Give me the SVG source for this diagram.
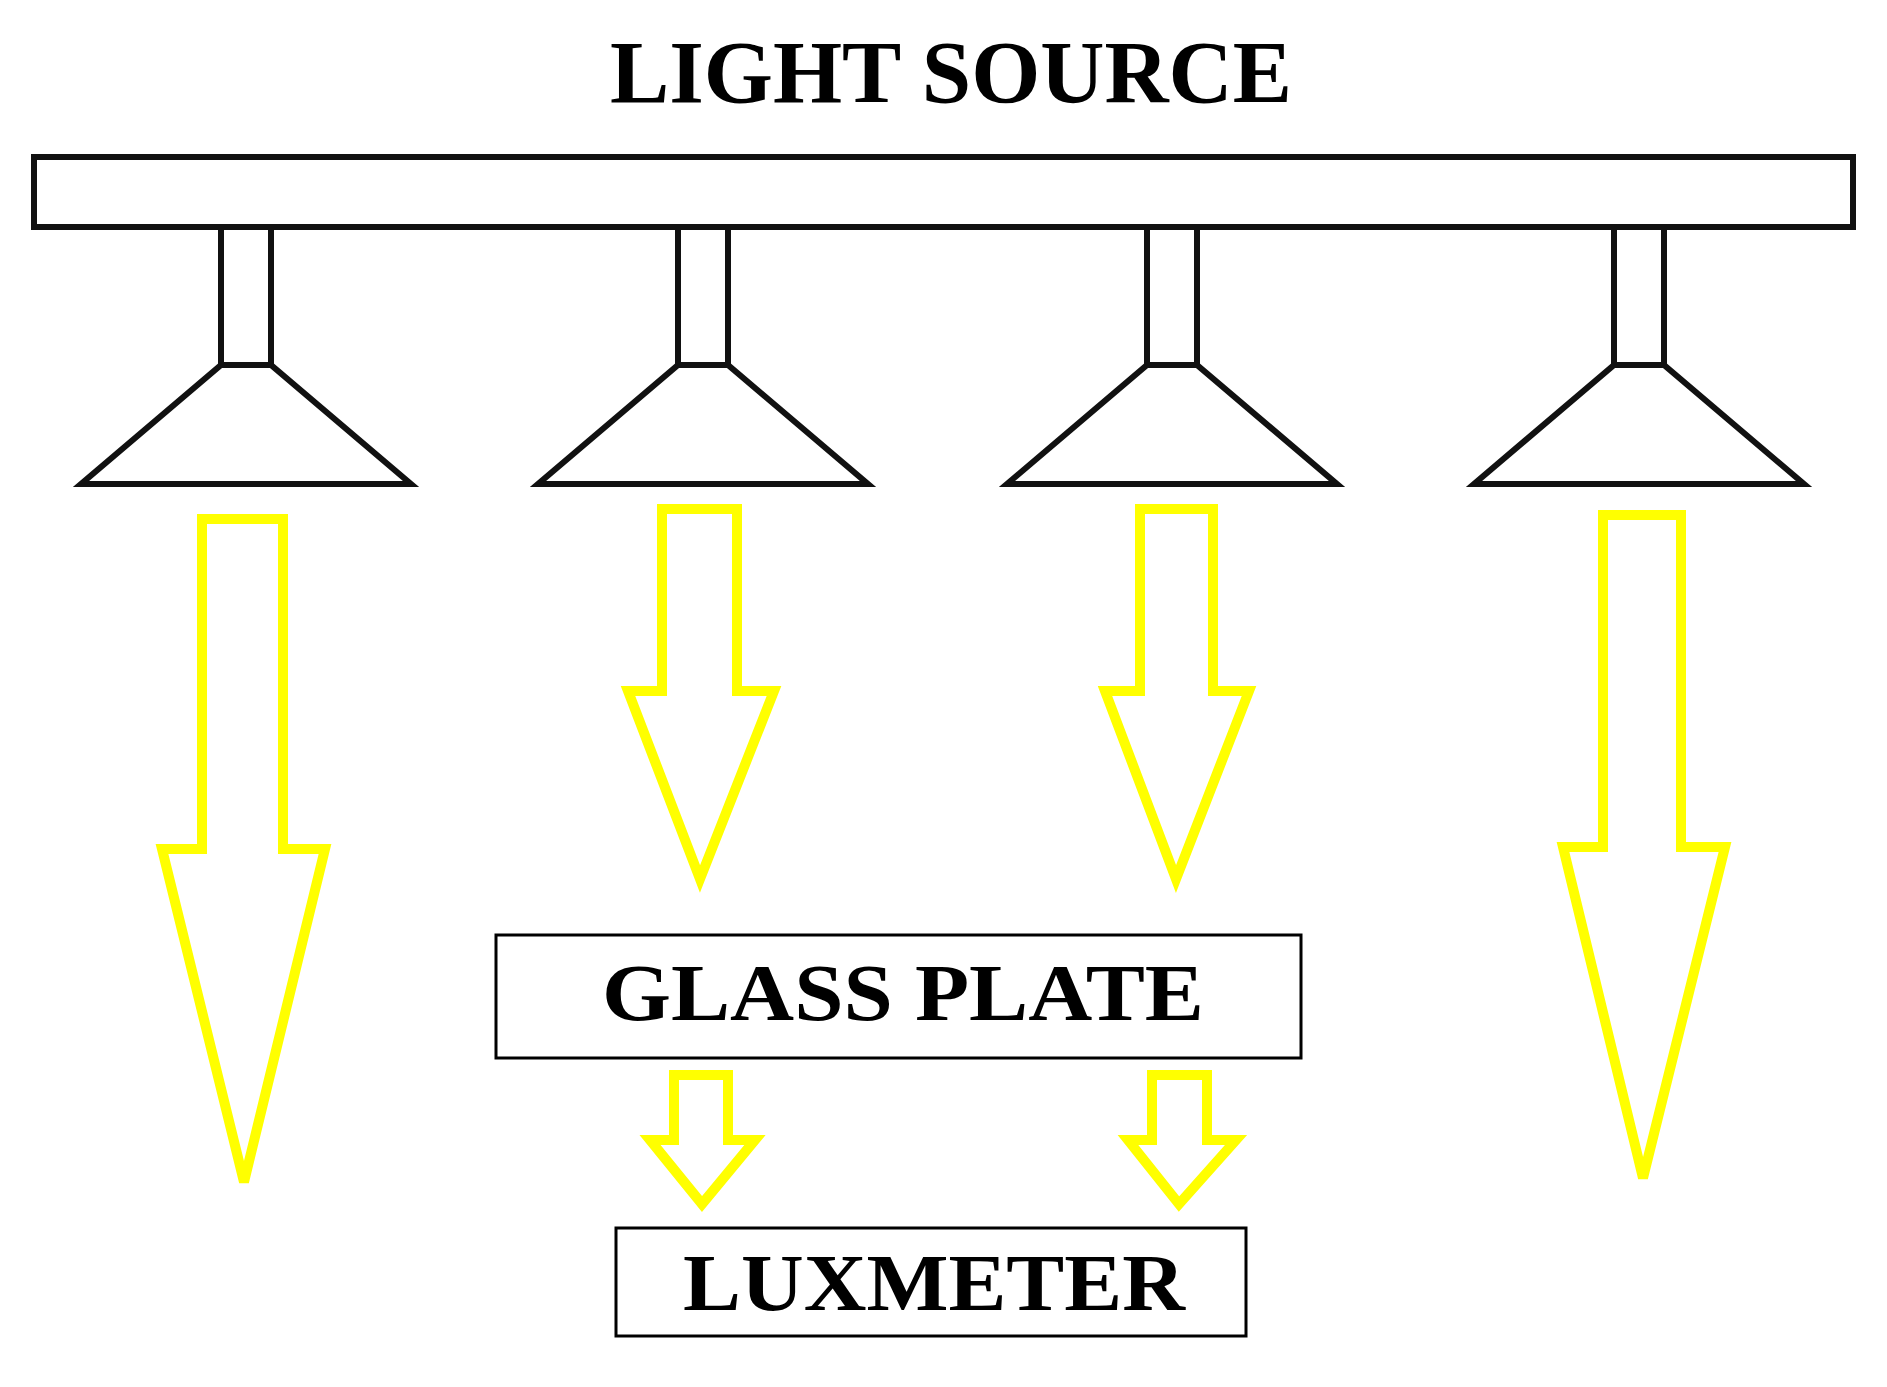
<svg xmlns="http://www.w3.org/2000/svg" width="1887" height="1387" viewBox="0 0 1887 1387">
<style>
.lbl{font-family:"Liberation Serif","Times New Roman",serif;font-weight:bold;fill:#000;text-anchor:middle}
.blk{fill:#fff;stroke:#111;stroke-width:6;stroke-linejoin:miter}
.box{fill:#fff;stroke:#000;stroke-width:3}
.arr{fill:none;stroke:#ffff00;stroke-width:10;stroke-linejoin:miter}
</style>
<rect width="1887" height="1387" fill="#fff"/>
<g id="title"><text class="lbl" x="951" y="102" font-size="88" textLength="682" lengthAdjust="spacingAndGlyphs">LIGHT SOURCE</text></g>
<g id="bar"><rect class="blk" x="34" y="157" width="1819" height="70"/></g>
<g id="lamp1" transform="translate(246,0)"><rect class="blk" x="-25" y="227" width="50" height="138"/><polygon class="blk" points="-25,365 25,365 165,484 -165,484"/></g>
<g id="lamp2" transform="translate(703,0)"><rect class="blk" x="-25" y="227" width="50" height="138"/><polygon class="blk" points="-25,365 25,365 165,484 -165,484"/></g>
<g id="lamp3" transform="translate(1172,0)"><rect class="blk" x="-25" y="227" width="50" height="138"/><polygon class="blk" points="-25,365 25,365 165,484 -165,484"/></g>
<g id="lamp4" transform="translate(1639,0)"><rect class="blk" x="-25" y="227" width="50" height="138"/><polygon class="blk" points="-25,365 25,365 165,484 -165,484"/></g>
<g id="connectors">
<polygon class="arr" points="202,519 283,519 283,849 325,849 244,1182 162,849 202,849"/>
<polygon class="arr" points="662,509 737,509 737,691 774,691 700,879 628,691 662,691"/>
<polygon class="arr" points="1140,509 1213,509 1213,691 1249,691 1176,879 1105,691 1140,691"/>
<polygon class="arr" points="1603,515 1681,515 1681,847 1725,847 1643,1178 1563,847 1603,847"/>
<polygon class="arr" points="674,1075 728,1075 728,1140 755,1140 702,1204 650,1140 674,1140"/>
<polygon class="arr" points="1152,1075 1207,1075 1207,1140 1236,1140 1179,1204 1128,1140 1152,1140"/>
</g>
<g id="glass"><rect class="box" x="496" y="935" width="805" height="123"/><text class="lbl" x="903" y="1020" font-size="80" textLength="602" lengthAdjust="spacingAndGlyphs">GLASS PLATE</text></g>
<g id="lux"><rect class="box" x="616" y="1228" width="630" height="108"/><text class="lbl" x="934" y="1310" font-size="80" textLength="502" lengthAdjust="spacingAndGlyphs">LUXMETER</text></g>
</svg>
